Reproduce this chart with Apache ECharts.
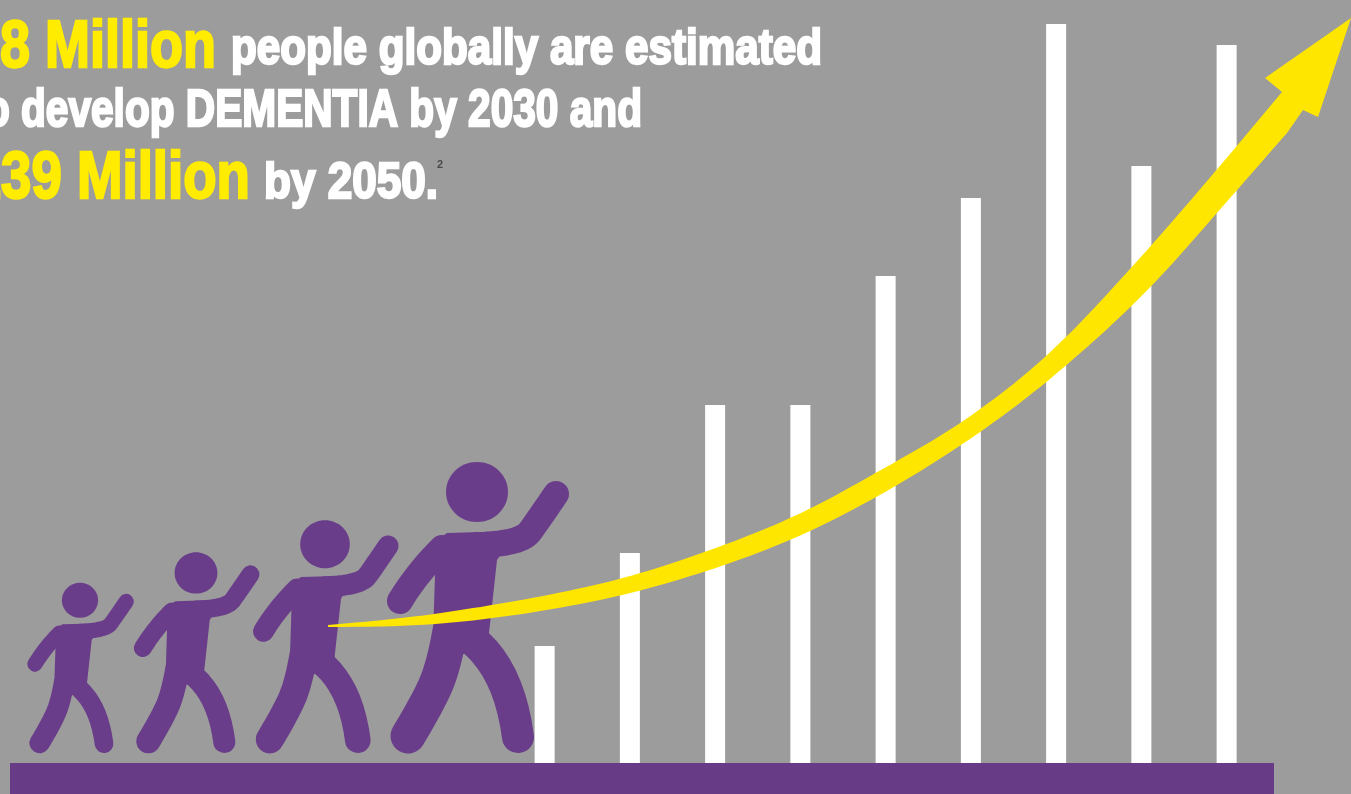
<!DOCTYPE html>
<html>
<head>
<meta charset="utf-8">
<style>html,body{margin:0;padding:0;background:#9c9c9c;overflow:hidden}#main{width:1351px;height:794px}</style>
<script src="https://cdn.jsdelivr.net/npm/echarts@6/dist/echarts.min.js"></script>
</head>
<body>
<div id="main"></div>
<script>
// Rising columns, heights measured up from the ground band
const categories = ['1', '2', '3', '4', '5', '6', '7', '8', '9'];
const columnValues = [117, 210, 358, 358, 487, 565, 739, 597, 718];

// Headline runs: [prefix off the page, visible text, left, right, baseline, size, colour]
const YELLOW = '#ffec00', WHITE = '#ffffff';
const headlineRuns = [
  ['7', '8 Million', 0, 216, 68, 67, YELLOW],
  ['', 'people globally are estimated', 231, 822, 65, 50, WHITE],
  ['to ', 'develop DEMENTIA by 2030 and', 21, 642, 127, 52, WHITE],
  ['1', '39 Million', 1, 250, 199, 67, YELLOW],
  ['', 'by 2050.', 264, 438, 199, 50, WHITE]
];

// Outline of the sweeping arrow, tail to head
const arrowUpper = [[328, 625], [400, 619], [482, 607], [555, 594], [630, 577], [715, 549], [800, 515], [885, 468], [963, 423], [1047, 358], [1130, 270], [1217, 170], [1282, 92]];
const arrowHead = [[1265, 78], [1351, 18], [1318, 117], [1303, 110]];
const arrowLower = [[1287, 133], [1217, 213], [1143, 297], [1047, 383], [970, 440], [887, 492], [800, 537], [715, 569], [630, 594], [555, 609], [482, 620], [400, 627], [328, 627]];

// The four walkers: head x, scale
const walkers = [[80, 0.585], [196, 0.69], [325, 0.8], [477, 1]];

const PURPLE = '#6a3d8a';
const GROUND = '#673b86';
const FONT = '"Liberation Sans Narrow", "Liberation Sans", sans-serif';
const BASELINE_OFFSET = 0.79;

const measureCtx = document.createElement('canvas').getContext('2d');

function headlineText(run) {
  const [prefix, visible, left, right, baseline, size, colour] = run;
  const font = 'bold ' + size + 'px ' + FONT;
  measureCtx.font = font;
  const scaleX = (right - left) / measureCtx.measureText(visible).width;
  return {
    type: 'text', x: right, y: baseline - BASELINE_OFFSET * size, scaleX: scaleX, z: 20,
    style: {
      text: prefix + visible, font: font, fill: colour, stroke: colour, lineWidth: 2.4,
      align: 'right', verticalAlign: 'top'
    }
  };
}

// Samples a quadratic spline through the midpoints, pinned to both end points
function splineThrough(pts) {
  const out = [pts[0]];
  let from = pts[0];
  for (let i = 1; i < pts.length - 1; i++) {
    const to = i === pts.length - 2
      ? pts[i + 1]
      : [(pts[i][0] + pts[i + 1][0]) / 2, (pts[i][1] + pts[i + 1][1]) / 2];
    for (let s = 1; s <= 10; s++) {
      const t = s / 10, u = 1 - t;
      out.push([
        u * u * from[0] + 2 * u * t * pts[i][0] + t * t * to[0],
        u * u * from[1] + 2 * u * t * pts[i][1] + t * t * to[1]
      ]);
    }
    from = to;
  }
  return out;
}

function limb(points, width) {
  return {
    type: 'polyline',
    shape: { points: splineThrough(points) },
    style: { stroke: PURPLE, lineWidth: width, lineCap: 'round', lineJoin: 'round', fill: null }
  };
}

// One figure, drawn around its head x with the soles at y = 0
function walker(entry) {
  return {
    type: 'group', x: entry[0], y: 753, scaleX: entry[1], scaleY: entry[1], z: 5,
    children: [
      { type: 'ellipse', shape: { cx: 0, cy: -261, rx: 31, ry: 30 }, style: { fill: PURPLE } },
      { type: 'polygon',
        shape: { points: [[-54, -203], [-30, -220], [40, -222], [20, -193], [12, -120], [-17, -96], [-44, -115], [-42, -178]] },
        style: { fill: PURPLE } },
      limb([[0, -208], [44, -209], [62, -234], [79, -259]], 26),
      limb([[-35, -205], [-60, -180], [-77, -152]], 26),
      limb([[-27, -122], [-33, -88], [-48, -52], [-69, -17]], 35),
      limb([[-8, -116], [32, -86], [41, -16]], 32)
    ]
  };
}

const chart = echarts.init(document.getElementById('main'), null, { renderer: 'canvas' });
chart.setOption({
  backgroundColor: '#9c9c9c',
  animation: false,
  grid: { left: 502, top: 0, width: 767.25, height: 763 },
  xAxis: { type: 'category', data: categories, show: false },
  yAxis: { type: 'value', min: 0, max: 763, show: false },
  series: [{
    type: 'bar',
    data: columnValues,
    barWidth: 20,
    z: 3,
    itemStyle: { color: '#ffffff' }
  }],
  graphic: {
    elements: [
      { type: 'rect', shape: { x: 10, y: 763, width: 1264, height: 31 }, style: { fill: GROUND }, z: 4 },
      ...walkers.map(walker),
      {
        type: 'polygon',
        shape: { points: splineThrough(arrowUpper).concat(arrowHead, splineThrough(arrowLower)) },
        style: { fill: '#ffe600' },
        z: 10
      },
      ...headlineRuns.map(headlineText),
      { type: 'text', x: 437, y: 159, z: 20, style: { text: '2', font: 'bold 11px ' + FONT, fill: '#4a4a4a' } }
    ]
  }
});
</script>
</body>
</html>
